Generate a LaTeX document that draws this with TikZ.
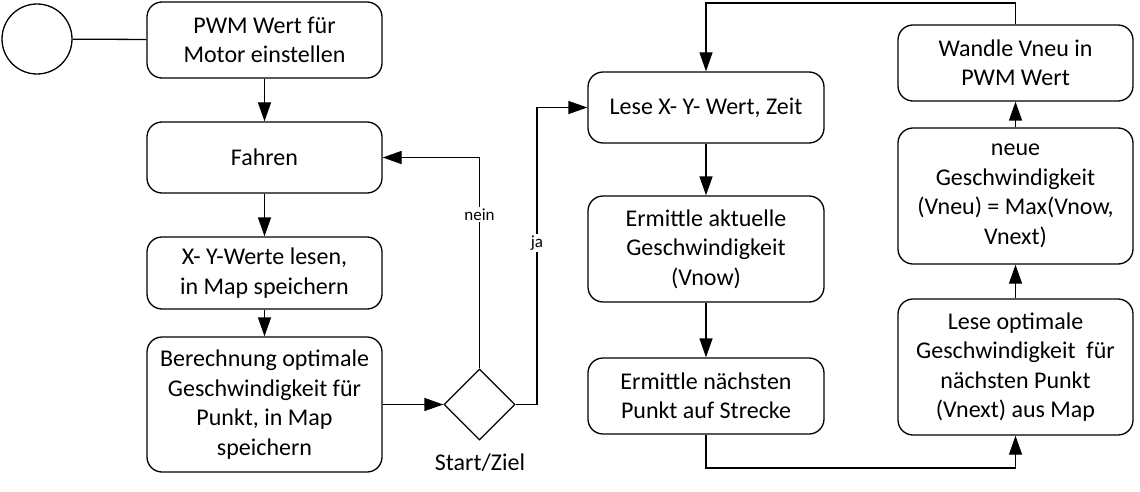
\documentclass[tikz,border=0pt]{standalone}
\usepackage{fontspec}
\setmainfont{Carlito}
\usetikzlibrary{arrows.meta,shapes.geometric}
\begin{document}
\begin{tikzpicture}[x=1pt,y=-1pt,
  line width=1.3pt,
  box/.style={draw, rectangle, rounded corners=15pt, inner sep=0pt, minimum width=235pt,
    align=center, font=\fontsize{24}{29.5}\selectfont},
  arr/.style={-{Triangle[length=19pt,width=13pt]}},
  lbl/.style={fill=white, inner sep=1.5pt, font=\fontsize{17}{19}\selectfont},
]
\useasboundingbox (0,0) rectangle (1140,492);
\node[draw, circle, minimum size=70pt, inner sep=0pt] (c) at (37,39) {};
\node[box, minimum height=76pt] (b1) at (264.5,40) {PWM Wert für\\Motor einstellen};
\node[box, minimum height=71pt] (b2) at (264.5,157.5) {Fahren};
\node[box, minimum height=72pt] (b3) at (264.5,273) {X- Y-Werte lesen,\\in Map speichern};
\node[box, minimum height=135pt] (b4) at (264.5,404.5) {Berechnung optimale\\Geschwindigkeit für\\Punkt, in Map\\speichern};
\node[draw, diamond, minimum width=71pt, minimum height=71pt, inner sep=0pt] (d) at (479.5,404.5) {};
\node[font=\fontsize{24}{28}\selectfont, inner sep=0pt] (sz) at (480,463) {Start/Ziel};
\node[box, minimum height=71pt, minimum width=236pt] (b5) at (706,107.5) {Lese X- Y- Wert, Zeit};
\node[box, minimum height=106pt, minimum width=236pt] (b6) at (706,249) {Ermittle aktuelle\\Geschwindigkeit\\(Vnow)};
\node[box, minimum height=76pt, minimum width=236pt] (b7) at (706,396) {Ermittle nächsten\\Punkt auf Strecke};
\node[box, minimum height=76pt] (r1) at (1015.5,63) {Wandle Vneu in\\PWM Wert};
\node[box, minimum height=136pt] (r2) at (1015.5,196) {neue\\Geschwindigkeit\\(Vneu) = Max(Vnow,\\Vnext)};
\node[box, minimum height=136pt] (r3) at (1015.5,367) {Lese optimale\\Geschwindigkeit~ für\\nächsten Punkt\\(Vnext) aus Map};
\coordinate (jx) at (537,0);
\coordinate (top) at (0,3);
\coordinate (bot) at (0,468);
\draw (c) -- (b1);
\draw[arr] (b1) -- (b2);
\draw[arr] (b2) -- (b3);
\draw[arr] (b3) -- (b4);
\draw[arr] (b4.east |- d.west) -- (d.west);
\draw[arr] (d.north) -- node[lbl, pos=0.73]{nein} (d.north |- b2.east) -- (b2.east);
\draw[arr] (d.east) -- (d.east -| jx) -- node[lbl, pos=0.544]{ja} (jx |- b5.west) -- (b5.west);
\draw[arr] (b5) -- (b6);
\draw[arr] (b6) -- (b7);
\draw[arr] (b7.south) -- (b7.south |- bot) -- (r3.south |- bot) -- (r3.south);
\draw[arr] (r3) -- (r2);
\draw[arr] (r2) -- (r1);
\draw[arr] (r1.north) -- (r1.north |- top) -- (b5.north |- top) -- (b5.north);
\end{tikzpicture}
\end{document}
